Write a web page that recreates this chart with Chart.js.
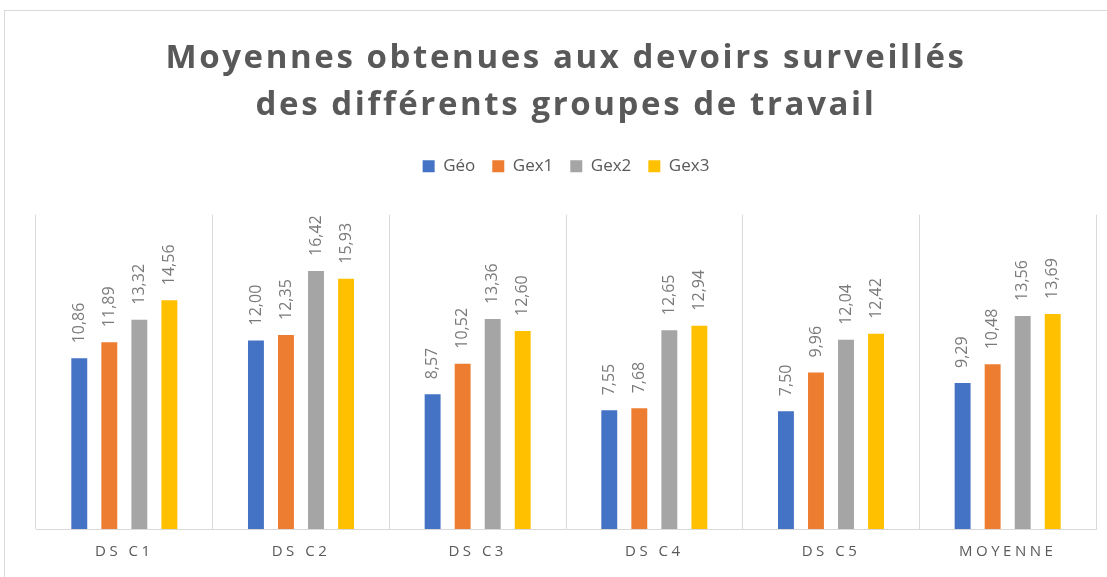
<!DOCTYPE html>
<html>
<head>
<meta charset="utf-8">
<script src="https://cdn.jsdelivr.net/npm/chart.js@4.4.1/dist/chart.umd.min.js"></script>
<style>
  html, body { margin: 0; padding: 0; background: #fff; }
  #wrap { width: 1107px; height: 577px; position: relative; }
</style>
</head>
<body>
<div id="wrap"><canvas id="graph1"></canvas></div>
<script>
// data
var categories = ["DS C1", "DS C2", "DS C3", "DS C4", "DS C5", "MOYENNE"];
var geo  = [10.86, 12.00, 8.57, 7.55, 7.50, 9.29];
var gex1 = [11.89, 12.35, 10.52, 7.68, 9.96, 10.48];
var gex2 = [13.32, 16.42, 13.36, 12.65, 12.04, 13.56];
var gex3 = [14.56, 15.93, 12.60, 12.94, 12.42, 13.69];

var textGray = '#595959';
var lineGray = '#d9d9d9';

// frame + letter spacing for title and x labels + rotated value labels
var chartExtras = {
    id: 'chartExtras',
    beforeInit: function(chart) {
        var fit = chart.legend.fit;
        chart.legend.fit = function() {
            fit.call(this);
            this.height += 30;
        };
    },
    afterLayout: function(chart) {
        var ctx = chart.ctx;
        if (!chart.titleBlock._spaced) {
            var tdraw = chart.titleBlock.draw;
            chart.titleBlock.draw = function(a) {
                ctx.save();
                ctx.letterSpacing = '2.6px';
                tdraw.call(this, a);
                ctx.restore();
            };
            chart.titleBlock._spaced = true;
        }
        var xs = chart.scales.x;
        if (!xs._spaced) {
            var ldraw = xs.drawLabels;
            xs.drawLabels = function(a) {
                ctx.save();
                ctx.letterSpacing = '3.5px';
                ldraw.call(this, a);
                ctx.restore();
            };
            xs._spaced = true;
        }
    },
    beforeDraw: function(chart) {
        var ctx = chart.ctx;
        ctx.save();
        ctx.strokeStyle = lineGray;
        ctx.lineWidth = 1;
        ctx.strokeRect(4.5, 10.5, chart.width, chart.height);
        ctx.restore();
    },
    afterDatasetsDraw: function(chart) {
        var ctx = chart.ctx;
        ctx.save();
        ctx.fillStyle = '#7a7a7a';
        ctx.font = '16px "Open Sans"';
        ctx.textAlign = 'left';
        ctx.textBaseline = 'middle';
        chart.data.datasets.forEach(function(ds, i) {
            var meta = chart.getDatasetMeta(i);
            meta.data.forEach(function(bar, j) {
                var txt = ds.data[j].toFixed(2).replace('.', ',');
                ctx.save();
                ctx.translate(bar.x, bar.y - 15);
                ctx.rotate(-Math.PI / 2);
                ctx.fillText(txt, 0, 0);
                ctx.restore();
            });
        });
        ctx.restore();
    }
};

var data = {
    labels: categories,
    datasets: [
        { label: 'Géo',  data: geo,  backgroundColor: '#4472C4' },
        { label: 'Gex1', data: gex1, backgroundColor: '#ED7D31' },
        { label: 'Gex2', data: gex2, backgroundColor: '#A5A5A5' },
        { label: 'Gex3', data: gex3, backgroundColor: '#FFC000' }
    ]
};

var ctx = document.getElementById('graph1').getContext('2d');
var myChart = new Chart(ctx, {
    type: 'bar',
    data: data,
    plugins: [chartExtras],
    options: {
        responsive: true,
        maintainAspectRatio: false,
        animation: false,
        categoryPercentage: 0.68,
        barPercentage: 0.53,
        layout: { padding: { left: 36, right: 11, bottom: 2, top: 0 } },
        scales: {
            x: {
                grid: { display: true, color: lineGray, drawTicks: false, offset: true },
                border: { display: true, color: lineGray },
                ticks: {
                    color: textGray,
                    padding: 14,
                    font: { family: 'Open Sans', size: 15 }
                }
            },
            y: {
                display: false,
                min: 0,
                max: 20
            }
        },
        plugins: {
            title: {
                display: true,
                text: ['Moyennes obtenues aux devoirs surveillés', 'des différents groupes de travail'],
                color: textGray,
                font: { family: 'Open Sans', size: 33, weight: 'bold', lineHeight: 1.42 },
                padding: { top: 35, bottom: 12 }
            },
            legend: {
                display: true,
                labels: {
                    color: textGray,
                    boxWidth: 12,
                    boxHeight: 12,
                    padding: 17,
                    font: { family: 'Open Sans', size: 17 }
                }
            },
            tooltip: { enabled: false }
        }
    }
});
</script>
</body>
</html>
